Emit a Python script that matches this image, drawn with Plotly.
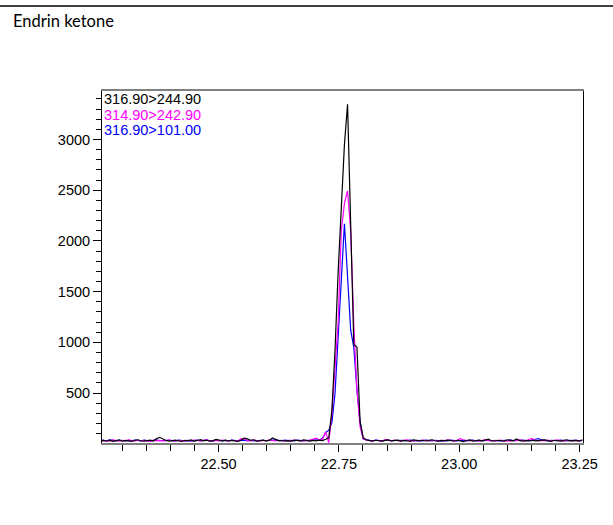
import plotly.graph_objects as go

# ---- data ----
x_start = 22.2545
x_step = 0.0065

black_pre = [30,34,28,36,25,31,38,27,33,29,
             24,35,40,30,26,32,37,28,52,64,
             45,33,27,31,36,29,25,34,30,38,
             27,33,41,29,35,26,31,44,38,30,
             36,28,33,30,25,37,55,48,34,40,
             27,31,36,29,33,58,42,30,35,28,
             32,27,36,31,29,38,33,27,34,30,
             36,32,45]
black_peak = [60,330,930,1700,2350,2950,3347,2150,980,955,220,60]
black_post = [40,32,28,35,30,26,33,38,29,31,
              36,27,34,30,25,38,32,29,35,28,
              33,40,30,26,34,29,37,31,28,35,
              30,22,33,38,27,31,36,29,34,45,
              30,28,35,32,26,40,33,29,48,31,
              27,34,30,36,29,32,28,38,31,25,
              35,30,27,33,40,29,34,31,28,36]

magenta_pre = [35,28,32,26,38,30,27,34,29,40,
               31,26,36,28,33,30,25,37,29,34,
               28,32,38,30,27,35,31,26,33,29,
               36,30,28,34,39,27,31,33,29,37,
               30,26,35,31,28,50,46,33,29,36,
               31,27,34,30,38,32,28,35,30,26,
               33,29,37,31,28,34,30,36,42,55,
               38,45,120]
magenta_peak = [10,300,750,1200,2100,2370,2494,2100,1170,530,170,50]
magenta_post = [38,30,27,35,31,28,42,33,29,36,
                30,26,34,38,31,27,33,29,36,30,
                28,35,31,27,33,30,38,29,26,34,
                52,40,31,28,35,30,27,33,39,31,
                28,34,30,36,29,32,27,35,31,38,
                30,27,45,50,34,29,33,30,36,28,
                32,38,30,27,35,31,29,34,30,36]

blue_pre = [40,36,30,38,33,29,35,31,28,34,
            30,37,33,29,36,31,27,34,38,30,
            33,29,35,31,28,36,32,30,34,27,
            31,36,29,33,38,30,27,35,32,29,
            34,30,36,31,28,33,37,30,35,29,
            32,28,35,30,34,31,38,33,29,36,
            31,34,30,37,33,29,35,32,40,38,
            36,55,110]
blue_peak = [135,210,500,1050,1530,2170,1650,1120,950,530,220,50]
blue_post = [38,33,30,36,31,28,34,37,30,33,
             29,35,32,30,36,31,28,34,30,37,
             33,29,35,31,27,34,30,36,32,29,
             35,31,28,33,37,30,34,29,32,36,
             30,34,31,28,35,32,38,30,33,29,
             36,31,34,30,45,52,38,31,29,35,
             32,30,36,33,29,34,31,37,30,33]

series_names = ["316.90>244.90", "314.90>242.90", "316.90>101.00"]
series_colors = ["#000000", "#ff00ff", "#0000ff"]
title_text = "Endrin ketone"
x_tickvals = [22.50, 22.75, 23.00, 23.25]
x_ticktext = ["22.50", "22.75", "23.00", "23.25"]
y_tickvals = [500, 1000, 1500, 2000, 2500, 3000]

black = black_pre + black_peak + black_post
magenta = magenta_pre + magenta_peak + magenta_post
blue = blue_pre + blue_peak + blue_post
n = len(black)
xs = [round(x_start + i * x_step, 5) for i in range(n)]

fig = go.Figure()
for ys, name, col in [(blue, series_names[2], series_colors[2]),
                      (magenta, series_names[1], series_colors[1]),
                      (black, series_names[0], series_colors[0])]:
    fig.add_trace(go.Scatter(x=xs[:len(ys)], y=ys, mode="lines", name=name,
                             line=dict(color=col, width=1.2), showlegend=False,
                             cliponaxis=True))

W, H = 613, 525
ml, mr, mt, mb = 102, 30, 91, 82
pw = W - ml - mr
ph = H - mt - mb

def px2paper_x(px):
    return (px - ml) / pw

def py2paper_y(py):
    return (H - mb - py) / ph

fig.update_layout(
    width=W, height=H,
    margin=dict(l=ml, r=mr, t=mt, b=mb, pad=0),
    paper_bgcolor="white", plot_bgcolor="white",
    font=dict(family="Liberation Sans, Arial, sans-serif", size=14, color="#000"),
    xaxis=dict(range=[22.258, 23.257], showgrid=False, zeroline=False,
               showline=True, linecolor="#808080", linewidth=2, mirror=True,
               tickmode="array", tickvals=x_tickvals, ticktext=x_ticktext,
               ticks="outside", ticklen=7, tickcolor="#000", tickwidth=1,
               minor=dict(dtick=0.05, tick0=22.5, ticks="outside", ticklen=6,
                          tickcolor="#000", tickwidth=1, showgrid=False),
               tickfont=dict(size=14.5)),
    yaxis=dict(range=[8, 3478], showgrid=False, zeroline=False,
               showline=True, linecolor="#000", linewidth=1, mirror=True,
               tickmode="array", tickvals=y_tickvals,
               ticks="outside", ticklen=8, tickcolor="#000", tickwidth=1,
               minor=dict(dtick=100, tick0=0, ticks="outside", ticklen=5,
                          tickcolor="#000", tickwidth=1, showgrid=False),
               tickfont=dict(size=14.5)),
)

# top rule across the page
fig.add_shape(type="line", xref="paper", yref="paper",
              x0=px2paper_x(0), x1=px2paper_x(W), y0=py2paper_y(6), y1=py2paper_y(6),
              line=dict(color="#000", width=1.5))

fig.add_annotation(text=title_text, xref="paper", yref="paper",
                   x=px2paper_x(11), y=py2paper_y(21.5), xanchor="left", yanchor="middle",
                   showarrow=False, font=dict(family="Lato, Open Sans, sans-serif", size=16.5, color="#000"))

for j, (nm, col) in enumerate(zip(series_names, series_colors)):
    fig.add_annotation(text=nm, xref="paper", yref="paper",
                       x=px2paper_x(102), y=py2paper_y(99 + j * 15.6),
                       xanchor="left", yanchor="middle", showarrow=False,
                       font=dict(size=14.5, color=col))

fig.write_html("out.html", config={"displayModeBar": False},
               post_script="document.body.style.margin='0';document.body.style.overflow='hidden';")
